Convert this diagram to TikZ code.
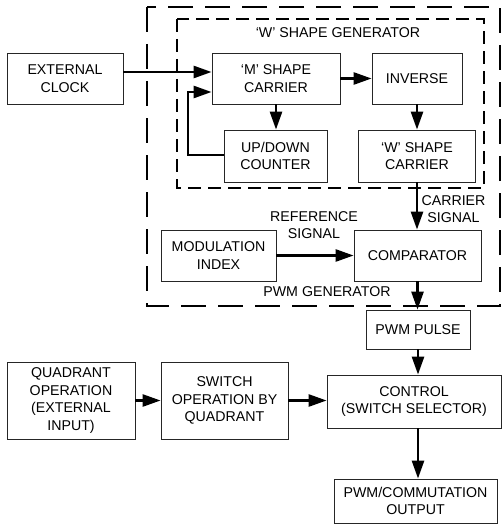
\documentclass[tikz,border=0pt]{standalone}
\usepackage{fontspec}
\setmainfont{Liberation Sans}
\usetikzlibrary{arrows.meta}
\begin{document}
\begin{tikzpicture}[x=1pt,y=-1pt,
  blk/.style={draw=black!85, line width=0.8pt, align=center, inner sep=0pt,
              font=\fontsize{14.2}{17.5}\selectfont},
  lbl/.style={align=center, inner sep=0pt, font=\fontsize{14.2}{16.5}\selectfont},
  flow/.style={line width=2.6pt, -{Triangle[length=18pt,width=12pt]}},
  outerbox/.style={line width=1.4pt, dash pattern=on 25pt off 12pt},
  innerbox/.style={line width=1.4pt, dash pattern=on 13pt off 7pt}]
\useasboundingbox (0,0) rectangle (502,524);

% enclosing generator regions
\draw[outerbox] (147,7) rectangle (500,306);
\draw[innerbox] (177,19) rectangle (484,188);
\node[lbl] (wgen) at (338,33) {`W' SHAPE GENERATOR};
\node[lbl] (pwmgen) at (327,292) {PWM GENERATOR};

% blocks
\node[blk, minimum width=116pt, minimum height=51pt] (clock) at (65,78.5) {EXTERNAL\\CLOCK};
\node[blk, minimum width=128pt, minimum height=51pt] (mshape) at (276,78.5) {`M' SHAPE\\CARRIER};
\node[blk, minimum width=90pt, minimum height=51pt] (inverse) at (417,78.5) {INVERSE};
\node[blk, minimum width=103pt, minimum height=52pt] (counter) at (275.5,156) {UP/DOWN\\COUNTER};
\node[blk, minimum width=117pt, minimum height=52pt] (wcar) at (417,156) {`W' SHAPE\\CARRIER};
\node[blk, minimum width=115pt, minimum height=51pt] (modidx) at (218.5,255.5) {MODULATION\\INDEX};
\node[blk, minimum width=127pt, minimum height=51pt] (comp) at (417.5,255.5) {COMPARATOR};
\node[blk, minimum width=104pt, minimum height=39pt] (pulse) at (418,329.5) {PWM PULSE};
\node[blk, minimum width=174pt, minimum height=53pt] (control) at (414,401.5) {CONTROL\\(SWITCH SELECTOR)};
\node[blk, minimum width=128pt, minimum height=77pt] (quad) at (71,400.5) {QUADRANT\\OPERATION\\(EXTERNAL\\INPUT)};
\node[blk, minimum width=127pt, minimum height=77pt] (switch) at (224.5,400.5) {SWITCH\\OPERATION BY\\QUADRANT};
\node[blk, minimum width=163pt, minimum height=44pt] (output) at (415.5,501) {PWM/COMMUTATION\\OUTPUT};

% signal labels
\node[lbl] (carlbl) at (453.5,209) {CARRIER\\SIGNAL};
\node[lbl] (reflbl) at (314,225) {REFERENCE\\SIGNAL};

% connectors
\draw[flow] ([yshift=6.5pt]clock.east) -- ([yshift=6.5pt]mshape.west);
\draw[flow] (mshape.east) -- (inverse.west);
\draw[flow] (mshape.south) -- (mshape.south |- counter.north);
\draw[flow] (inverse.south) -- (inverse.south |- wcar.north);
\coordinate (fbcorner) at (188,155);
\draw[flow] (counter.west |- fbcorner) -- (fbcorner) |- ([yshift=-13.5pt]mshape.west);
\draw[flow] (wcar.south) -- (wcar.south |- comp.north);
\draw[flow] (modidx.east) -- (modidx.east -| comp.west);
\draw[flow] (comp.south) -- (comp.south |- pulse.north);
\draw[flow] (pulse.south) -- (pulse.south |- control.north);
\draw[flow] (pulse.south |- control.south) -- (pulse.south |- output.north);
\draw[flow] (quad.east) -- (switch.west);
\draw[flow] (switch.east) -- (switch.east -| control.west);
\end{tikzpicture}
\end{document}
